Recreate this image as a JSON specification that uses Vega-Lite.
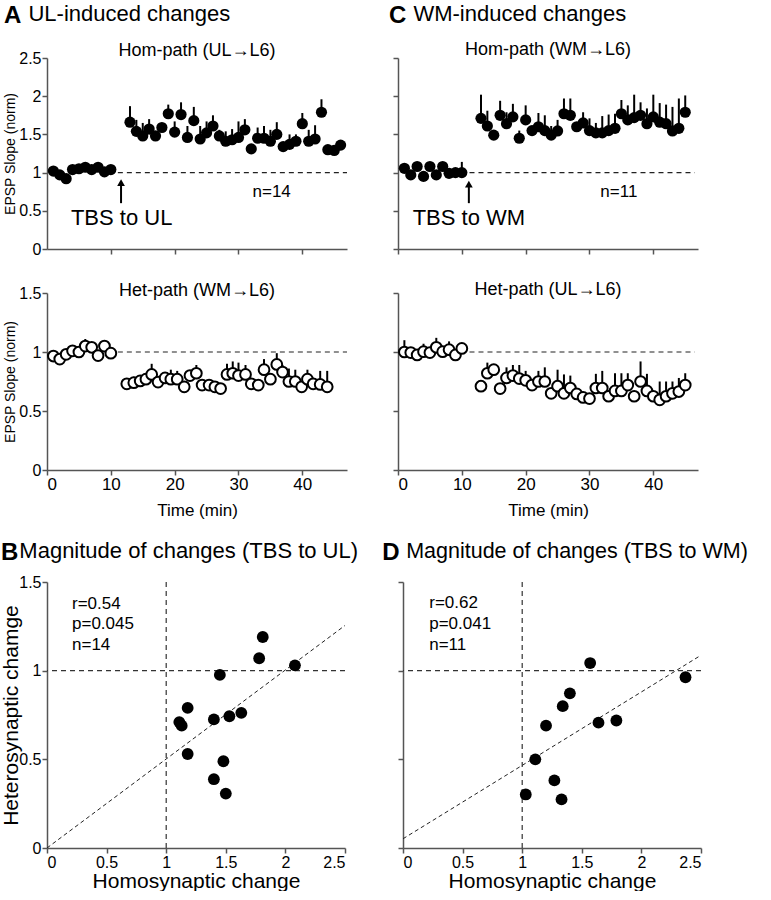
{
  "$schema": "https://vega.github.io/schema/vega-lite/v6.json",
  "padding": {"left": 0, "top": 3, "right": 2, "bottom": 0},
  "config": {
    "font": "Liberation Sans",
    "view": {"stroke": null},
    "axis": {"grid": false, "labelOverlap": false, "domainColor": "#555", "tickColor": "#555", "domainWidth": 1.5, "tickWidth": 1.5, "labelColor": "black", "titleColor": "black", "labelFont": "Liberation Sans", "titleFont": "Liberation Sans", "titleFontWeight": "normal", "labelFontSize": 16, "tickSize": 5, "labelPadding": 1},
    "title": {"font": "Liberation Sans", "fontWeight": "normal", "color": "black", "subtitleColor": "black", "subtitleFont": "Liberation Sans"}
  },
  "datasets": {
    "homUL": [{"t":1,"mean":1.02},{"t":2,"mean":0.97},{"t":3,"mean":0.92},{"t":4,"mean":1.04},{"t":5,"mean":1.05},{"t":6,"mean":1.07},{"t":7,"mean":1.04},{"t":8,"mean":1.07},{"t":9,"mean":1.01},{"t":10,"mean":1.04},
      {"t":13,"mean":1.66,"upper":1.87},{"t":14,"mean":1.54,"upper":1.69},{"t":15,"mean":1.48,"upper":1.65},{"t":16,"mean":1.57,"upper":1.70},{"t":17,"mean":1.48},{"t":18,"mean":1.59,"upper":1.65},{"t":19,"mean":1.77,"upper":1.89},{"t":20,"mean":1.53,"upper":1.67},{"t":21,"mean":1.76,"upper":1.92},{"t":22,"mean":1.46,"upper":1.61},{"t":23,"mean":1.68,"upper":1.86},{"t":24,"mean":1.44,"upper":1.61},{"t":25,"mean":1.52,"upper":1.67},{"t":26,"mean":1.61,"upper":1.75},{"t":27,"mean":1.48,"upper":1.56},{"t":28,"mean":1.41,"upper":1.54},{"t":29,"mean":1.43,"upper":1.57},{"t":30,"mean":1.46,"upper":1.67},{"t":31,"mean":1.56,"upper":1.70},{"t":32,"mean":1.31},{"t":33,"mean":1.45,"upper":1.59},{"t":34,"mean":1.45,"upper":1.61},{"t":35,"mean":1.41,"upper":1.56},{"t":36,"mean":1.50,"upper":1.66},{"t":37,"mean":1.34},{"t":38,"mean":1.37,"upper":1.50},{"t":39,"mean":1.41,"upper":1.50},{"t":40,"mean":1.64,"upper":1.78},{"t":41,"mean":1.41,"upper":1.56},{"t":42,"mean":1.44,"upper":1.62},{"t":43,"mean":1.79,"upper":1.96},{"t":44,"mean":1.30},{"t":45,"mean":1.29},{"t":46,"mean":1.36}],
    "hetWM": [{"t":1,"mean":0.966,"upper":1.0},{"t":2,"mean":0.94},{"t":3,"mean":0.98},{"t":4,"mean":1.01},{"t":5,"mean":1.0},{"t":6,"mean":1.05,"upper":1.11},{"t":7,"mean":1.04},{"t":8,"mean":0.97},{"t":9,"mean":1.05,"upper":1.1},{"t":10,"mean":0.99},
      {"t":12.5,"mean":0.73},{"t":13.6,"mean":0.74,"upper":0.79},{"t":14.6,"mean":0.755,"upper":0.8},{"t":15.5,"mean":0.77},{"t":16.4,"mean":0.81,"upper":0.9},{"t":17.4,"mean":0.745},{"t":18.5,"mean":0.78,"upper":0.82},{"t":19.4,"mean":0.77,"upper":0.85},{"t":20.4,"mean":0.77,"upper":0.84},{"t":21.5,"mean":0.705},{"t":22.4,"mean":0.8},{"t":23.4,"mean":0.82,"upper":0.89},{"t":24.3,"mean":0.72},{"t":25.4,"mean":0.72},{"t":26.3,"mean":0.705,"upper":0.75},{"t":27.2,"mean":0.69},{"t":28.2,"mean":0.81,"upper":0.9},{"t":29.1,"mean":0.82,"upper":0.92},{"t":30.0,"mean":0.8,"upper":0.91},{"t":31.1,"mean":0.81,"upper":0.89},{"t":32.0,"mean":0.73,"upper":0.78},{"t":33.1,"mean":0.72},{"t":34.0,"mean":0.85,"upper":0.94},{"t":35.0,"mean":0.77},{"t":36.0,"mean":0.895,"upper":0.99},{"t":36.9,"mean":0.83,"upper":0.89},{"t":37.9,"mean":0.75,"upper":0.86},{"t":38.9,"mean":0.75,"upper":0.85},{"t":39.9,"mean":0.705},{"t":40.8,"mean":0.77,"upper":0.85},{"t":41.7,"mean":0.73},{"t":42.8,"mean":0.725,"upper":0.84},{"t":43.9,"mean":0.705,"upper":0.84}],
    "homWM": [{"t":1,"mean":1.056},{"t":2,"mean":0.97},{"t":3,"mean":1.08},{"t":4,"mean":0.95},{"t":5,"mean":1.08},{"t":6,"mean":0.97},{"t":7,"mean":1.08},{"t":8,"mean":0.99},{"t":9,"mean":1.0},{"t":10,"mean":1.0,"upper":1.14},
      {"t":13,"mean":1.71,"upper":2.02},{"t":14,"mean":1.61,"upper":1.81},{"t":15,"mean":1.49},{"t":16,"mean":1.75,"upper":1.94},{"t":17,"mean":1.64,"upper":1.79},{"t":18,"mean":1.73,"upper":1.9},{"t":19,"mean":1.45,"upper":1.55},{"t":20,"mean":1.69,"upper":1.88},{"t":21,"mean":1.55},{"t":22,"mean":1.6,"upper":1.78},{"t":23,"mean":1.55,"upper":1.75},{"t":24,"mean":1.49,"upper":1.61},{"t":25,"mean":1.545,"upper":1.69},{"t":26,"mean":1.77,"upper":1.97},{"t":27,"mean":1.75,"upper":1.97},{"t":28,"mean":1.6},{"t":29,"mean":1.65,"upper":1.79},{"t":30,"mean":1.55,"upper":1.71},{"t":31,"mean":1.52,"upper":1.65},{"t":32,"mean":1.52,"upper":1.74},{"t":33,"mean":1.55,"upper":1.76},{"t":34,"mean":1.58,"upper":1.77},{"t":35,"mean":1.77,"upper":1.95},{"t":36,"mean":1.69,"upper":1.88},{"t":37,"mean":1.72,"upper":2.02},{"t":38,"mean":1.75,"upper":1.92},{"t":39,"mean":1.64,"upper":1.84},{"t":40,"mean":1.73,"upper":2.02},{"t":41,"mean":1.66,"upper":1.91},{"t":42,"mean":1.64,"upper":1.89},{"t":43,"mean":1.545,"upper":1.86},{"t":44,"mean":1.58,"upper":1.97},{"t":45,"mean":1.79,"upper":2.01}],
    "hetUL": [{"t":1,"mean":1.0,"upper":1.1},{"t":2,"mean":0.995},{"t":3,"mean":0.975},{"t":4,"mean":1.003,"upper":1.07},{"t":5,"mean":0.995},{"t":6,"mean":1.04,"upper":1.12},{"t":7,"mean":1.003},{"t":8,"mean":1.02,"upper":1.09},{"t":9,"mean":0.975},{"t":10,"mean":1.03},
      {"t":13,"mean":0.71},{"t":14,"mean":0.82,"upper":0.91},{"t":15,"mean":0.85},{"t":16,"mean":0.69},{"t":17,"mean":0.78,"upper":0.87},{"t":18,"mean":0.8,"upper":0.89},{"t":19,"mean":0.775,"upper":0.89},{"t":20,"mean":0.76,"upper":0.84},{"t":21,"mean":0.72},{"t":22,"mean":0.75,"upper":0.84},{"t":23,"mean":0.75,"upper":0.87},{"t":24,"mean":0.65},{"t":25,"mean":0.71,"upper":0.85},{"t":26,"mean":0.65,"upper":0.81},{"t":27,"mean":0.695,"upper":0.8},{"t":28,"mean":0.645},{"t":29,"mean":0.615},{"t":30,"mean":0.605},{"t":31,"mean":0.695,"upper":0.815},{"t":32,"mean":0.695,"upper":0.84},{"t":33,"mean":0.625},{"t":34,"mean":0.67,"upper":0.82},{"t":35,"mean":0.67,"upper":0.82},{"t":36,"mean":0.72,"upper":0.82},{"t":37,"mean":0.625},{"t":38,"mean":0.75,"upper":0.92},{"t":39,"mean":0.67,"upper":0.815},{"t":40,"mean":0.625},{"t":41,"mean":0.595,"upper":0.75},{"t":42,"mean":0.625,"upper":0.75},{"t":43,"mean":0.65,"upper":0.75},{"t":44,"mean":0.665,"upper":0.78},{"t":45,"mean":0.72,"upper":0.82}],
    "scUL": [{"hom":1.81,"het":1.19},{"hom":1.78,"het":1.07},{"hom":2.08,"het":1.03},{"hom":1.45,"het":0.976},{"hom":1.18,"het":0.79},{"hom":1.11,"het":0.71},{"hom":1.13,"het":0.69},{"hom":1.4,"het":0.725},{"hom":1.53,"het":0.743},{"hom":1.63,"het":0.762},{"hom":1.18,"het":0.53},{"hom":1.48,"het":0.489},{"hom":1.4,"het":0.388},{"hom":1.5,"het":0.307}],
    "scWM": [{"hom":1.57,"het":1.043},{"hom":2.37,"het":0.963},{"hom":1.4,"het":0.872},{"hom":1.34,"het":0.8},{"hom":1.2,"het":0.69},{"hom":1.64,"het":0.707},{"hom":1.79,"het":0.719},{"hom":1.11,"het":0.5},{"hom":1.27,"het":0.381},{"hom":1.03,"het":0.302},{"hom":1.33,"het":0.274}],
    "annA": [{"label": "TBS to UL", "lx": 3.75, "ly": 0.32}],
    "annC": [{"label": "TBS to WM", "lx": 2.3, "ly": 0.32}],
    "nA": [{"label": "n=14", "lx": 32.2, "ly": 0.74}],
    "nC": [{"label": "n=11", "lx": 31.7, "ly": 0.74}],
    "arrowA": [{"ax": 11.6, "y0": 0.6, "y1": 0.86, "tip": 0.87}],
    "arrowC": [{"ax": 11.1, "y0": 0.6, "y1": 0.84, "tip": 0.85}],
    "none": []
  },
  "vconcat": [
    {
      "spacing": 11,
      "vconcat": [
        {
          "spacing": 42,
          "hconcat": [
            {"width": 300, "height": 1, "data": {"name": "none"}, "mark": "point",
             "title": {"text": "A", "subtitle": "\u200b\u00a0\u00a0\u00a0\u00a0UL-induced changes", "anchor": "start", "dx": -43, "fontSize": 24, "fontWeight": "bold", "subtitleFontSize": 22, "subtitlePadding": -24, "offset": 0}},
            {"width": 300, "height": 1, "data": {"name": "none"}, "mark": "point",
             "title": {"text": "C", "subtitle": "\u200b\u00a0\u00a0\u00a0\u00a0WM-induced changes", "anchor": "start", "dx": -12, "fontSize": 24, "fontWeight": "bold", "subtitleFontSize": 22, "subtitlePadding": -24, "offset": 0}}
          ]
        },
        {
          "spacing": 24,
          "vconcat": [
            {
              "spacing": 44,
              "hconcat": [
                {
                  "width": 300, "height": 191,
                  "title": {"text": "Hom-path (UL→L6)", "fontSize": 18, "offset": -10},
                  "encoding": {
                    "x": {"type": "quantitative", "scale": {"domain": [0, 47], "nice": false}, "axis": {"values": [10, 20, 30, 40], "labels": false, "minExtent": 5, "maxExtent": 5}, "title": null},
                    "y": {"type": "quantitative", "scale": {"domain": [0, 2.5], "nice": false}, "axis": {"values": [0, 0.5, 1, 1.5, 2, 2.5], "format": "~g", "labelOverlap": false, "titleFontSize": 14, "titlePadding": 3, "minExtent": 27, "maxExtent": 27}, "title": "EPSP Slope (norm)"}
                  },
                  "layer": [
                    {"data": {"name": "homUL"}, "transform": [{"filter": "isValid(datum.upper)"}], "mark": {"type": "rule", "color": "black", "strokeWidth": 2},
                     "encoding": {"x": {"field": "t"}, "y": {"field": "mean"}, "y2": {"field": "upper"}}},
                    {"data": {"name": "homUL"}, "mark": {"type": "point", "shape": "circle", "filled": true, "color": "black", "opacity": 1, "size": 125},
                     "encoding": {"x": {"field": "t"}, "y": {"field": "mean"}}},
                    {"data": {"values": [{}]}, "mark": {"type": "rule", "strokeDash": [5, 4], "strokeWidth": 1.2, "color": "#222"},
                     "encoding": {"x": {"datum": 11.1}, "x2": {"datum": 47}, "y": {"datum": 1}}},
                    {"data": {"name": "arrowA"}, "mark": {"type": "rule", "strokeWidth": 2, "color": "black"},
                     "encoding": {"x": {"field": "ax"}, "y": {"field": "y0"}, "y2": {"field": "y1"}}},
                    {"data": {"name": "arrowA"}, "mark": {"type": "point", "shape": "triangle-up", "filled": true, "color": "black", "opacity": 1, "size": 60},
                     "encoding": {"x": {"field": "ax"}, "y": {"field": "tip"}}},
                    {"data": {"name": "annA"}, "mark": {"type": "text", "align": "left", "baseline": "alphabetic", "fontSize": 22, "color": "black"},
                     "encoding": {"x": {"field": "lx"}, "y": {"field": "ly"}, "text": {"field": "label"}}},
                    {"data": {"name": "nA"}, "mark": {"type": "text", "align": "left", "baseline": "middle", "fontSize": 17, "color": "black"},
                     "encoding": {"x": {"field": "lx"}, "y": {"field": "ly"}, "text": {"field": "label"}}}
                  ]
                },
                {
                  "width": 300, "height": 191,
                  "title": {"text": "Hom-path (WM→L6)", "fontSize": 18, "offset": -2},
                  "encoding": {
                    "x": {"type": "quantitative", "scale": {"domain": [0, 47], "nice": false}, "axis": {"values": [0, 10, 20, 30, 40], "labels": false, "minExtent": 5, "maxExtent": 5}, "title": null},
                    "y": {"type": "quantitative", "scale": {"domain": [0, 2.5], "nice": false}, "axis": {"values": [0, 0.5, 1, 1.5, 2, 2.5], "labels": false, "minExtent": 5, "maxExtent": 5}, "title": null}
                  },
                  "layer": [
                    {"data": {"name": "homWM"}, "transform": [{"filter": "isValid(datum.upper)"}], "mark": {"type": "rule", "color": "black", "strokeWidth": 2},
                     "encoding": {"x": {"field": "t"}, "y": {"field": "mean"}, "y2": {"field": "upper"}}},
                    {"data": {"name": "homWM"}, "mark": {"type": "point", "shape": "circle", "filled": true, "color": "black", "opacity": 1, "size": 125},
                     "encoding": {"x": {"field": "t"}, "y": {"field": "mean"}}},
                    {"data": {"values": [{}]}, "mark": {"type": "rule", "strokeDash": [5, 4], "strokeWidth": 1.2, "color": "#222"},
                     "encoding": {"x": {"datum": 11.2}, "x2": {"datum": 46.5}, "y": {"datum": 1}}},
                    {"data": {"name": "arrowC"}, "mark": {"type": "rule", "strokeWidth": 2, "color": "black"},
                     "encoding": {"x": {"field": "ax"}, "y": {"field": "y0"}, "y2": {"field": "y1"}}},
                    {"data": {"name": "arrowC"}, "mark": {"type": "point", "shape": "triangle-up", "filled": true, "color": "black", "opacity": 1, "size": 60},
                     "encoding": {"x": {"field": "ax"}, "y": {"field": "tip"}}},
                    {"data": {"name": "annC"}, "mark": {"type": "text", "align": "left", "baseline": "alphabetic", "fontSize": 22, "color": "black"},
                     "encoding": {"x": {"field": "lx"}, "y": {"field": "ly"}, "text": {"field": "label"}}},
                    {"data": {"name": "nC"}, "mark": {"type": "text", "align": "left", "baseline": "middle", "fontSize": 17, "color": "black"},
                     "encoding": {"x": {"field": "lx"}, "y": {"field": "ly"}, "text": {"field": "label"}}}
                  ]
                }
              ]
            },
            {
              "spacing": 44,
              "hconcat": [
                {
                  "width": 300, "height": 177,
                  "title": {"text": "Het-path (WM→L6)", "fontSize": 18, "offset": -15},
                  "encoding": {
                    "x": {"type": "quantitative", "scale": {"domain": [0, 47], "nice": false}, "axis": {"values": [0, 10, 20, 30, 40], "labelOverlap": false, "labelFontSize": 17, "titleFontSize": 17, "labelPadding": 1, "titlePadding": 8, "minExtent": 24, "maxExtent": 24}, "title": "Time (min)"},
                    "y": {"type": "quantitative", "scale": {"domain": [0, 1.5], "nice": false}, "axis": {"values": [0, 0.5, 1, 1.5], "format": "~g", "labelOverlap": false, "titleFontSize": 14, "titlePadding": 3, "minExtent": 27, "maxExtent": 27}, "title": "EPSP Slope (norm)"}
                  },
                  "layer": [
                    {"data": {"name": "hetWM"}, "transform": [{"filter": "isValid(datum.upper)"}], "mark": {"type": "rule", "color": "black", "strokeWidth": 2},
                     "encoding": {"x": {"field": "t"}, "y": {"field": "mean"}, "y2": {"field": "upper"}}},
                    {"data": {"values": [{}]}, "mark": {"type": "rule", "strokeDash": [5, 4], "strokeWidth": 1.2, "color": "#222"},
                     "encoding": {"x": {"datum": 11.1}, "x2": {"datum": 47}, "y": {"datum": 1}}},
                    {"data": {"name": "hetWM"}, "mark": {"type": "point", "shape": "circle", "filled": true, "fill": "white", "stroke": "black", "strokeWidth": 2, "opacity": 1, "size": 115},
                     "encoding": {"x": {"field": "t"}, "y": {"field": "mean"}}}
                  ]
                },
                {
                  "width": 300, "height": 177,
                  "title": {"text": "Het-path (UL→L6)", "fontSize": 18, "offset": -7},
                  "encoding": {
                    "x": {"type": "quantitative", "scale": {"domain": [0, 47], "nice": false}, "axis": {"values": [0, 10, 20, 30, 40], "labelOverlap": false, "labelFontSize": 17, "titleFontSize": 17, "labelPadding": 1, "titlePadding": 8, "minExtent": 24, "maxExtent": 24}, "title": "Time (min)"},
                    "y": {"type": "quantitative", "scale": {"domain": [0, 1.5], "nice": false}, "axis": {"values": [0, 0.5, 1, 1.5], "labels": false, "minExtent": 5, "maxExtent": 5}, "title": null}
                  },
                  "layer": [
                    {"data": {"name": "hetUL"}, "transform": [{"filter": "isValid(datum.upper)"}], "mark": {"type": "rule", "color": "black", "strokeWidth": 2},
                     "encoding": {"x": {"field": "t"}, "y": {"field": "mean"}, "y2": {"field": "upper"}}},
                    {"data": {"values": [{}]}, "mark": {"type": "rule", "strokeDash": [5, 4], "strokeWidth": 1.2, "color": "#222"},
                     "encoding": {"x": {"datum": 11.2}, "x2": {"datum": 46.5}, "y": {"datum": 1}}},
                    {"data": {"name": "hetUL"}, "mark": {"type": "point", "shape": "circle", "filled": true, "fill": "white", "stroke": "black", "strokeWidth": 2, "opacity": 1, "size": 115},
                     "encoding": {"x": {"field": "t"}, "y": {"field": "mean"}}}
                  ]
                }
              ]
            }
          ]
        }
      ]
    },
    {
      "spacing": 23,
      "hconcat": [
        {
          "width": 298, "height": 266,
          "title": {"text": "B", "subtitle": "\u200b\u00a0\u00a0\u00a0Magnitude of changes (TBS to UL)", "anchor": "start", "dx": 1, "fontSize": 24, "fontWeight": "bold", "subtitleFontSize": 22, "subtitlePadding": -24, "offset": 8},
          "encoding": {
            "x": {"type": "quantitative", "scale": {"domain": [0, 2.5], "nice": false}, "axis": {"values": [0, 0.5, 1, 1.5, 2, 2.5], "format": "~g", "labelOverlap": false, "titleFontSize": 21, "labelPadding": 1, "titlePadding": 0, "minExtent": 22, "maxExtent": 22}, "title": "Homosynaptic change"},
            "y": {"type": "quantitative", "scale": {"domain": [0, 1.5], "nice": false}, "axis": {"values": [0, 0.5, 1, 1.5], "format": "~g", "labelOverlap": false, "titleFontSize": 21, "titlePadding": 0, "minExtent": 26, "maxExtent": 26}, "title": "Heterosynaptic chamge"}
          },
          "layer": [
            {"data": {"values": [{}]}, "mark": {"type": "rule", "strokeDash": [5, 4], "strokeWidth": 1.2, "color": "#333"},
             "encoding": {"x": {"datum": 1}}},
            {"data": {"values": [{}]}, "mark": {"type": "rule", "strokeDash": [5, 4], "strokeWidth": 1.2, "color": "#333"},
             "encoding": {"y": {"datum": 1}}},
            {"data": {"values": [{}]}, "mark": {"type": "rule", "strokeDash": [4, 3], "strokeWidth": 1, "color": "#222"},
             "encoding": {"x": {"datum": 0}, "y": {"datum": 0}, "x2": {"datum": 2.5}, "y2": {"datum": 1.255}}},
            {"data": {"name": "scUL"}, "mark": {"type": "point", "shape": "circle", "filled": true, "color": "black", "opacity": 1, "size": 140},
             "encoding": {"x": {"field": "hom"}, "y": {"field": "het"}}},
            {"data": {"values": [{"label": "r=0.54", "lx": 0.21, "ly": 1.375}, {"label": "p=0.045", "lx": 0.21, "ly": 1.262}, {"label": "n=14", "lx": 0.21, "ly": 1.145}]},
             "mark": {"type": "text", "align": "left", "baseline": "middle", "fontSize": 17, "color": "black"},
             "encoding": {"x": {"field": "lx"}, "y": {"field": "ly"}, "text": {"field": "label"}}}
          ]
        },
        {
          "width": 298, "height": 266,
          "title": {"text": "D", "subtitle": "\u200b\u00a0\u00a0\u00a0\u00a0Magnitude of changes (TBS to WM)", "anchor": "start", "dx": -15, "fontSize": 24, "fontWeight": "bold", "subtitleFontSize": 21.5, "subtitlePadding": -24, "offset": 16},
          "encoding": {
            "x": {"type": "quantitative", "scale": {"domain": [0, 2.5], "nice": false}, "axis": {"values": [0, 0.5, 1, 1.5, 2, 2.5], "format": "~g", "labelOverlap": false, "titleFontSize": 21, "labelPadding": 1, "titlePadding": 0, "minExtent": 22, "maxExtent": 22}, "title": "Homosynaptic change"},
            "y": {"type": "quantitative", "scale": {"domain": [0, 1.5], "nice": false}, "axis": {"values": [0, 0.5, 1, 1.5], "labels": false, "minExtent": 5, "maxExtent": 5}, "title": null}
          },
          "layer": [
            {"data": {"values": [{}]}, "mark": {"type": "rule", "strokeDash": [5, 4], "strokeWidth": 1.2, "color": "#333"},
             "encoding": {"x": {"datum": 1}}},
            {"data": {"values": [{}]}, "mark": {"type": "rule", "strokeDash": [5, 4], "strokeWidth": 1.2, "color": "#333"},
             "encoding": {"y": {"datum": 1}}},
            {"data": {"values": [{}]}, "mark": {"type": "rule", "strokeDash": [4, 3], "strokeWidth": 1, "color": "#222"},
             "encoding": {"x": {"datum": 0}, "y": {"datum": 0.052}, "x2": {"datum": 2.5}, "y2": {"datum": 1.087}}},
            {"data": {"name": "scWM"}, "mark": {"type": "point", "shape": "circle", "filled": true, "color": "black", "opacity": 1, "size": 140},
             "encoding": {"x": {"field": "hom"}, "y": {"field": "het"}}},
            {"data": {"values": [{"label": "r=0.62", "lx": 0.22, "ly": 1.38}, {"label": "p=0.041", "lx": 0.22, "ly": 1.262}, {"label": "n=11", "lx": 0.22, "ly": 1.145}]},
             "mark": {"type": "text", "align": "left", "baseline": "middle", "fontSize": 17, "color": "black"},
             "encoding": {"x": {"field": "lx"}, "y": {"field": "ly"}, "text": {"field": "label"}}}
          ]
        }
      ]
    }
  ],
  "spacing": 22
}
